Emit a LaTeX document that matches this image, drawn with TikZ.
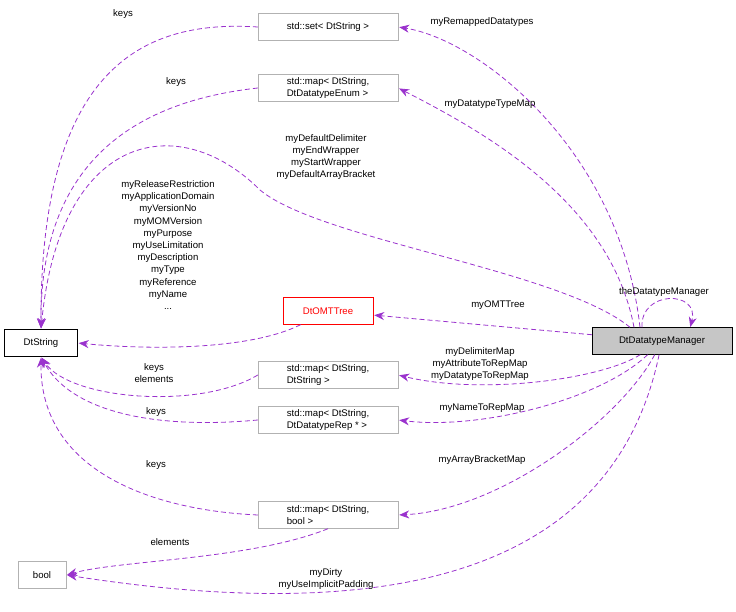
\documentclass[tikz,border=0pt]{standalone}
\usepackage{fontspec}
\setmainfont{Liberation Sans}
\usetikzlibrary{arrows,arrows.meta}
\definecolor{edgecol}{HTML}{9A32CD}

\begin{document}
\begin{tikzpicture}[x=1pt,y=-1pt,>=stealth',
        every node/.style={font=\fontsize{9.6}{12.2}\selectfont},
        cls/.style={draw=gray!60,rectangle,minimum height=27pt,inner sep=3pt},
        rel/.style={draw=edgecol,line width=0.8pt,dash pattern=on 5pt off 3pt,
          shorten >=1pt,arrows={-{Stealth[fill=edgecol,length=10pt,width=8pt]}}},
        lbl/.style={align=center,inner sep=1pt}]
  \useasboundingbox (0,0) rectangle (736,612);

  \node[cls,draw=black,minimum width=73pt] (str) at (41,343) {DtString};
  \node[cls,minimum width=48pt] (bool) at (42,575) {bool};
  \node[cls,minimum width=140pt] (set) at (328,27) {std::set< DtString >};
  \node[cls,minimum width=140pt,align=left] (enum) at (328,88) {std::map< DtString,\\DtDatatypeEnum >};
  \node[cls,draw=red,text=red,minimum width=90pt] (omt) at (328,311) {DtOMTTree};
  \node[cls,minimum width=140pt,align=left] (sstr) at (328,375) {std::map< DtString,\\DtString >};
  \node[cls,minimum width=140pt,align=left] (srep) at (328,420) {std::map< DtString,\\DtDatatypeRep * >};
  \node[cls,minimum width=140pt,align=left] (sbool) at (328,515) {std::map< DtString,\\bool >};
  \node[cls,draw=black,fill=gray!45,minimum width=140pt] (mgr) at (662,341) {DtDatatypeManager};
  \coordinate (loop) at (690,328);

  % manager members
  \draw[rel] (mgr.north) ++(-22,0) .. controls (620,150) and (480,40) .. (set.east);
  \draw[rel] (mgr.north) ++(-28,0) .. controls (610,200) and (480,130) .. (enum.east);
  \draw[rel] (mgr.north) ++(-32,0) .. controls (560,270) and (320,240) .. (260,190)
        .. controls (180,110) and (60,130) .. (str.north);
  \draw[rel] (mgr) -- (omt);
  \draw[rel] (mgr.north) ++(-20,0) .. controls (640,290) and (700,290) .. (loop);
  \draw[rel] (mgr) .. controls (600,380) and (480,395) .. (sstr.east);
  \draw[rel] (mgr) .. controls (600,400) and (480,430) .. (srep.east);
  \draw[rel] (mgr) .. controls (620,420) and (500,510) .. (sbool.east);
  \draw[rel] (mgr) .. controls (620,540) and (450,635) .. (bool.east);

  % container members
  \draw[rel] (set.west) .. controls (150,20) and (40,60) .. (str.north);
  \draw[rel] (enum.west) .. controls (150,100) and (40,150) .. (str.north);
  \draw[rel] (omt) .. controls (250,350) and (150,350) .. (str.east);
  \draw[rel] (sstr.west) .. controls (200,410) and (70,400) .. (str.south);
  \draw[rel] (srep.west) .. controls (150,430) and (70,410) .. (str.south);
  \draw[rel] (sbool.west) .. controls (150,510) and (40,470) .. (str.south);
  \draw[rel] (sbool.south) .. controls (250,560) and (120,560) .. (bool.east);

  % labels
  \node[lbl] at (482,22) {myRemappedDatatypes};
  \node[lbl] at (490,104) {myDatatypeTypeMap};
  \node[lbl] at (326,157) {myDefaultDelimiter\\myEndWrapper\\myStartWrapper\\myDefaultArrayBracket};
  \node[lbl] at (498,305) {myOMTTree};
  \node[lbl] at (664,292) {theDatatypeManager};
  \node[lbl] at (480,364) {myDelimiterMap\\myAttributeToRepMap\\myDatatypeToRepMap};
  \node[lbl] at (482,408) {myNameToRepMap};
  \node[lbl] at (482,460) {myArrayBracketMap};
  \node[lbl] at (326,579) {myDirty\\myUseImplicitPadding};
  \node[lbl] at (123,14) {keys};
  \node[lbl] at (176,82) {keys};
  \node[lbl] at (168,245) {myReleaseRestriction\\myApplicationDomain\\myVersionNo\\myMOMVersion\\myPurpose\\myUseLimitation\\myDescription\\myType\\myReference\\myName\\...};
  \node[lbl] at (154,373) {keys\\elements};
  \node[lbl] at (156,412) {keys};
  \node[lbl] at (156,465) {keys};
  \node[lbl] at (170,542) {elements};
\end{tikzpicture}
\end{document}
